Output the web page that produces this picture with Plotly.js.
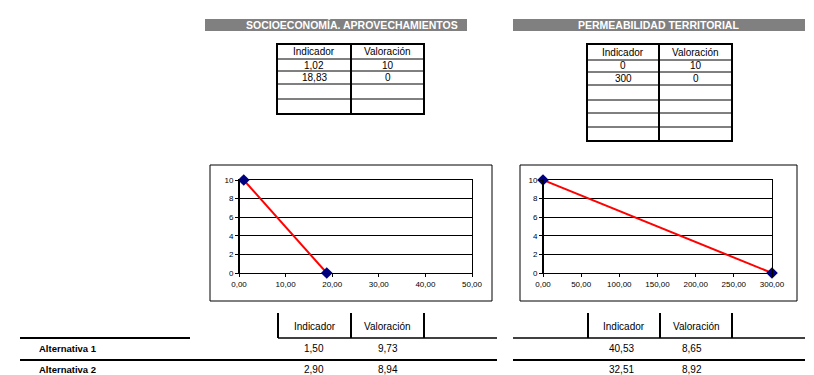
<!DOCTYPE html>
<html>
<head>
<meta charset="utf-8">
<script src="https://cdn.plot.ly/plotly-3.0.1.min.js"></script>
<style>
  html, body { margin: 0; padding: 0; background: #ffffff; }
  #grafico { width: 814px; height: 375px; }
</style>
</head>
<body>
<div id="grafico"></div>
<script>
// Función de valoración: socioeconomía (aprovechamientos)
const socioIndicador = [1.02, 18.83];
const socioValoracion = [10, 0];

// Función de valoración: permeabilidad territorial
const permIndicador = [0, 300];
const permValoracion = [10, 0];

// Alternativas evaluadas
const alternativas = ['Alternativa 1', 'Alternativa 2'];
const altSocioIndicador = [1.50, 2.90];
const altSocioValoracion = [9.73, 8.94];
const altPermIndicador = [40.53, 32.51];
const altPermValoracion = [8.65, 8.92];

// Textos
const titulos = ['SOCIOECONOMÍA. APROVECHAMIENTOS', 'PERMEABILIDAD TERRITORIAL'];
const cabeceras = ['Indicador', 'Valoración'];

// ---- helpers de maquetación (píxeles -> coordenadas de papel) ----
const W = 814, H = 375;
const X = p => p / W;
const Y = p => 1 - p / H;
const FONT = 'Liberation Sans, Arial, sans-serif';
const coma = v => v.toFixed(2).replace('.', ',');
const general = v => String(v).replace('.', ',');

const shapes = [];
const annotations = [];

function linea(x0, y0, x1, y1, w, color) {
  shapes.push({type: 'line', xref: 'paper', yref: 'paper',
    x0: X(x0), y0: Y(y0), x1: X(x1), y1: Y(y1),
    line: {color: color || '#000000', width: w}});
}
function caja(x0, y0, x1, y1, fill, w) {
  shapes.push({type: 'rect', xref: 'paper', yref: 'paper',
    x0: X(x0), y0: Y(y0), x1: X(x1), y1: Y(y1),
    fillcolor: fill || 'rgba(0,0,0,0)',
    line: {color: '#000000', width: w || 0}});
}
function texto(t, x, y, opts) {
  opts = opts || {};
  annotations.push({xref: 'paper', yref: 'paper', x: X(x), y: Y(y),
    text: t, showarrow: false, xanchor: opts.anchor || 'center', yanchor: 'middle',
    borderpad: 0,
    font: {family: FONT, size: opts.size || 10, color: opts.color || '#000000'}});
}

// ---- barras de título ----
const barras = [[205, 467, 352], [513, 805, 658]];
barras.forEach((b, i) => {
  caja(b[0], 19, b[1], 31, '#808080', 0);
  texto('<b>' + titulos[i] + '</b>', b[2], 25, {size: 10.5, color: '#ffffff'});
});

// ---- tablas de la función de valoración ----
function tablaFuncion(cols, filas, indic, valor, fmtInd) {
  const [xa, xm, xb] = cols;
  const top = filas[0], bot = filas[filas.length - 1];
  for (let i = 1; i < filas.length - 1; i++) linea(xa, filas[i], xb, filas[i], 1, '#000000');
  caja(xa, top, xb, bot, null, 2);
  linea(xm, top, xm, bot, 2);
  texto(cabeceras[0], (xa + xm) / 2, (filas[0] + filas[1]) / 2, {size: 10});
  texto(cabeceras[1], (xm + xb) / 2, (filas[0] + filas[1]) / 2, {size: 10});
  indic.forEach((v, i) => {
    const yc = (filas[i + 1] + filas[i + 2]) / 2;
    texto(fmtInd(v), (xa + xm) / 2, yc, {size: 10});
    texto(general(valor[i]), (xm + xb) / 2, yc, {size: 10});
  });
}
tablaFuncion([277, 351, 424], [44, 59, 71, 84, 99, 114], socioIndicador, socioValoracion, coma);
tablaFuncion([587, 659, 732], [44, 60, 72, 85, 100, 113, 127, 141], permIndicador, permValoracion, general);

// ---- marcos de los gráficos ----
caja(210, 165, 492, 301, null, 1);
caja(520, 165, 797, 301, null, 1);
// eje vertical reforzado
linea(239, 180, 239, 273, 2);
linea(543, 180, 543, 273, 2);

// ---- tabla de alternativas ----
const colsAlt = [[278, 351, 424], [588, 660, 732]];
colsAlt.forEach(c => {
  c.forEach(x => linea(x, 313, x, 338, 2));
  texto(cabeceras[0], (c[0] + c[1]) / 2, 326, {size: 10});
  texto(cabeceras[1], (c[1] + c[2]) / 2, 326, {size: 10});
});
linea(20, 338, 190, 338, 2);
linea(278, 338, 497, 338, 1.5);
linea(513, 338, 805, 338, 1.5);
linea(20, 360, 497, 360, 2);
linea(513, 360, 805, 360, 2);
const filasAlt = [348, 369];
alternativas.forEach((n, i) => {
  texto('<b>' + n + '</b>', 38, filasAlt[i], {size: 9.5, anchor: 'left'});
  texto(coma(altSocioIndicador[i]), 314, filasAlt[i], {size: 10});
  texto(coma(altSocioValoracion[i]), 388, filasAlt[i], {size: 10});
  texto(coma(altPermIndicador[i]), 621, filasAlt[i], {size: 10});
  texto(coma(altPermValoracion[i]), 692, filasAlt[i], {size: 10});
});

// ---- gráficos ----
const serie = (x, y, xa, ya) => ({
  x: x, y: y, xaxis: xa, yaxis: ya, type: 'scatter', mode: 'lines+markers',
  cliponaxis: false, hoverinfo: 'skip',
  line: {color: '#ff0000', width: 2},
  marker: {symbol: 'diamond', size: 9, color: '#000080'}
});
const data = [
  serie(socioIndicador, socioValoracion, 'x', 'y'),
  serie(permIndicador, permValoracion, 'x2', 'y2')
];

const ejeX = (dom, max, dt) => ({
  domain: dom, range: [0, max], dtick: dt, tick0: 0, tickformat: '.2f',
  showgrid: false, zeroline: false, showline: true, mirror: true,
  linecolor: '#000000', linewidth: 1, ticks: 'outside', ticklen: 3,
  tickcolor: '#000000', tickfont: {family: FONT, size: 8, color: '#000000'},
  fixedrange: true
});
const ejeY = (anchor) => ({
  domain: [Y(273), Y(180)], range: [0, 10], dtick: 2, tick0: 0, anchor: anchor,
  showgrid: true, gridcolor: '#000000', gridwidth: 1, zeroline: false,
  showline: true, mirror: true, linecolor: '#000000', linewidth: 1,
  ticks: 'outside', ticklen: 3, tickcolor: '#000000',
  tickfont: {family: FONT, size: 8, color: '#000000'}, fixedrange: true
});

const layout = {
  width: W, height: H,
  margin: {l: 0, r: 0, t: 0, b: 0},
  paper_bgcolor: '#ffffff', plot_bgcolor: '#ffffff',
  separators: ',.',
  showlegend: false,
  xaxis: Object.assign(ejeX([X(239), X(472)], 50, 10), {anchor: 'y'}),
  yaxis: ejeY('x'),
  xaxis2: Object.assign(ejeX([X(543), X(772)], 300, 50), {anchor: 'y2'}),
  yaxis2: ejeY('x2'),
  shapes: shapes,
  annotations: annotations
};

Plotly.newPlot('grafico', data, layout, {displayModeBar: false, staticPlot: true});
</script>
</body>
</html>
